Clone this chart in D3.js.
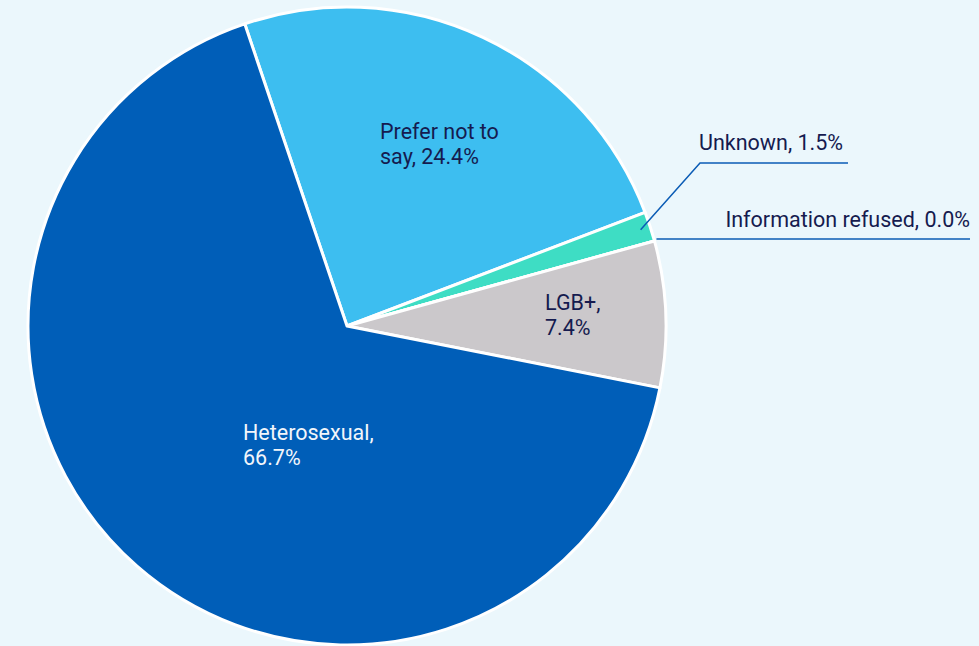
<!DOCTYPE html>
<html>
<head>
<meta charset="utf-8">
<script src="https://cdn.jsdelivr.net/npm/d3@7"></script>
<style>
  html, body { margin: 0; padding: 0; background: #EBF7FC; }
  svg { display: block; font-family: Roboto, "Noto Sans", sans-serif; }
</style>
</head>
<body>
<svg id="chart" width="979" height="646"></svg>
<script>
// Sexual orientation breakdown (percent), in clockwise drawing order
const categories = ["Prefer not to say", "Unknown", "Information refused", "LGB+", "Heterosexual"];
const values = [24.4, 1.5, 0.0, 7.4, 66.7];
const colors = ["#3DBEF0", "#3EDDC4", "#2FB8D8", "#CBC8CB", "#005EB8"];

const svg = d3.select("#chart");
const cx = 347, cy = 326, radius = 319;
const startDeg = -18.7;

const pie = d3.pie()
  .sort(null)
  .value(d => d.value)
  .startAngle(startDeg * Math.PI / 180)
  .endAngle((startDeg + 360) * Math.PI / 180);

const data = categories.map((c, i) => ({ name: c, value: values[i], color: colors[i] }));
const arcs = pie(data);
const arc = d3.arc().innerRadius(0).outerRadius(radius);

const g = svg.append("g").attr("transform", `translate(${cx},${cy})`);

g.selectAll("path.slice")
  .data(arcs)
  .join("path")
  .attr("class", "slice")
  .attr("d", arc)
  .attr("fill", d => d.data.color)
  .attr("stroke", "#FFFFFF")
  .attr("stroke-width", 3)
  .attr("stroke-linejoin", "round");

const fmt = v => v.toFixed(1) + "%";
const textColor = "#151B4F";
const fontSize = 21.5;

// Inside labels
const inside = [
  { lines: ["Prefer not to", "say, " + fmt(values[0])], x: 380, y: 139, fill: textColor },
  { lines: ["LGB+,", fmt(values[3])], x: 545, y: 310, fill: textColor },
  { lines: ["Heterosexual,", fmt(values[4])], x: 243, y: 440, fill: "#F2F6FB" }
];

inside.forEach(l => {
  const t = svg.append("text")
    .attr("x", l.x).attr("y", l.y)
    .attr("fill", l.fill)
    .attr("font-size", fontSize);
  l.lines.forEach((s, i) => {
    t.append("tspan").attr("x", l.x).attr("dy", i === 0 ? 0 : 24.5).text(s);
  });
});

// Outside labels with leader lines for the thin slices
const lineColor = "#0B5CB5";
const midPoint = (a, r) => {
  const m = (a.startAngle + a.endAngle) / 2;
  return [cx + Math.sin(m) * r, cy - Math.cos(m) * r];
};

// Unknown
const pU = midPoint(arcs[1], radius - 10);
svg.append("polyline")
  .attr("points", [pU, [700, 163], [848, 163]].map(p => p.join(",")).join(" "))
  .attr("fill", "none").attr("stroke", lineColor).attr("stroke-width", 1.5);
svg.append("text").attr("x", 699).attr("y", 150).attr("fill", textColor).attr("font-size", fontSize)
  .text(categories[1] + ", " + fmt(values[1]));

// Information refused
const pR = midPoint(arcs[2], radius);
svg.append("polyline")
  .attr("points", [[pR[0] + 2, 239], [970, 239]].map(p => p.join(",")).join(" "))
  .attr("fill", "none").attr("stroke", lineColor).attr("stroke-width", 1.5);
svg.append("text").attr("x", 970).attr("y", 227).attr("text-anchor", "end").attr("fill", textColor).attr("font-size", fontSize)
  .text(categories[2] + ", " + fmt(values[2]));
</script>
</body>
</html>
